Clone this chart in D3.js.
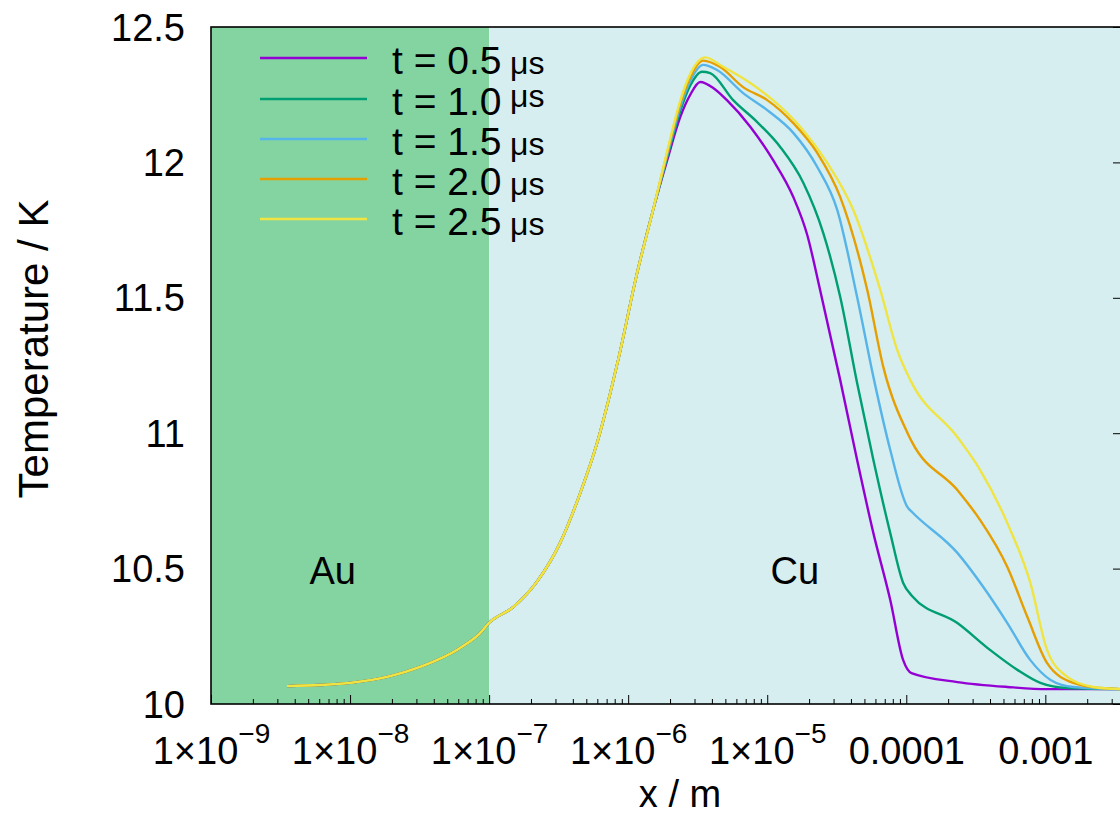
<!DOCTYPE html>
<html>
<head>
<meta charset="utf-8">
<script src="https://cdn.jsdelivr.net/npm/d3@7"></script>
<style>
  body { margin: 0; background: #fff; }
  text { font-family: "Liberation Sans", Arial, sans-serif; fill: #000; }
</style>
</head>
<body>
<div id="chart"></div>
<script>
// legend labels (time in microseconds) and line colours
var timeLabels = ['0.5', '1.0', '1.5', '2.0', '2.5'];
var lineColors = ['#9400d3', '#009e73', '#56b4e9', '#e69f00', '#f0e442'];

// material regions
var regionNames = ['Au', 'Cu'];
var regionStart = [1e-9, 1e-7];
var regionEnd = [1e-7, 3.5e-3];
var regionLabelX = [7.5e-9, 1.58e-5];
var regionLabelT = 10.443;

// tick values
var yTicks = [10, 10.5, 11, 11.5, 12, 12.5];
var xMajorTicks = [1e-9, 1e-8, 1e-7, 1e-6, 1e-5, 1e-4, 1e-3];

// common rising part of every profile
var riseX = [3.52e-9, 6.08e-9, 1.0e-8, 1.94e-8, 3.19e-8, 6.18e-8, 8.61e-8, 1.0e-7, 1.49e-7,
    2.21e-7, 3.24e-7, 4.52e-7, 5.98e-7, 7.43e-7, 8.47e-7, 1.16e-6, 1.51e-6];
var riseT = [10.066, 10.070, 10.078, 10.103, 10.137, 10.207, 10.262, 10.300, 10.358,
    10.452, 10.595, 10.779, 10.964, 11.148, 11.270, 11.592, 11.824];

// t = 0.5 us
var x05 = [1.91e-6, 2.37e-6, 2.79e-6, 3.30e-6, 4.09e-6, 5.13e-6, 7.55e-6, 1.10e-5, 1.54e-5, 1.94e-5, 2.40e-5,
    3.35e-5, 4.43e-5, 5.80e-5, 7.67e-5, 9.50e-5, 1.09e-4, 2.33e-4, 5.33e-4, 1.03e-3, 3.5e-3];
var T05 = [12.009, 12.168, 12.249, 12.297, 12.275, 12.230, 12.132, 12.009, 11.872, 11.732, 11.529,
    11.196, 10.901, 10.631, 10.384, 10.162, 10.114, 10.081, 10.063, 10.055, 10.055];

// t = 1.0 us
var x10 = [1.91e-6, 2.37e-6, 2.79e-6, 3.39e-6, 3.89e-6, 5.69e-6, 8.47e-6, 1.24e-5, 1.82e-5, 2.53e-5, 3.35e-5, 4.43e-5,
    5.80e-5, 7.67e-5, 9.50e-5, 1.10e-4, 2.33e-4, 4.02e-4, 6.30e-4, 9.21e-4, 1.44e-3, 3.5e-3];
var T10 = [12.020, 12.190, 12.283, 12.335, 12.330, 12.230, 12.149, 12.057, 11.924, 11.739, 11.503, 11.185,
    10.901, 10.631, 10.447, 10.399, 10.299, 10.199, 10.126, 10.078, 10.059, 10.055];

// t = 1.5 us
var x15 = [1.91e-6, 2.37e-6, 2.79e-6, 3.47e-6, 4.36e-6, 6.71e-6, 1.0e-5, 1.54e-5, 2.29e-5, 3.19e-5, 4.43e-5, 5.80e-5,
    7.67e-5, 1.02e-4, 1.10e-4, 2.33e-4, 3.58e-4, 5.33e-4, 7.80e-4, 1.09e-3, 1.59e-3, 3.5e-3];
var T15 = [12.028, 12.205, 12.300, 12.360, 12.341, 12.256, 12.193, 12.109, 11.983, 11.824, 11.503, 11.208,
    10.938, 10.727, 10.709, 10.558, 10.432, 10.299, 10.162, 10.089, 10.063, 10.055];

// t = 2.0 us
var x20 = [1.91e-6, 2.37e-6, 2.79e-6, 3.47e-6, 4.59e-6, 6.71e-6, 1.0e-5, 1.54e-5, 2.29e-5, 3.35e-5, 5.24e-5, 6.84e-5,
    1.02e-4, 1.10e-4, 2.33e-4, 3.40e-4, 5.33e-4, 7.43e-4, 1.03e-3, 1.59e-3, 2.49e-3, 3.5e-3];
var T20 = [12.036, 12.218, 12.314, 12.376, 12.352, 12.278, 12.230, 12.145, 12.035, 11.872, 11.529, 11.244,
    11.001, 10.967, 10.790, 10.679, 10.506, 10.321, 10.151, 10.078, 10.059, 10.055];

// t = 2.5 us
var x25 = [1.91e-6, 2.37e-6, 2.79e-6, 3.58e-6, 4.82e-6, 7.55e-6, 1.10e-5, 1.73e-5, 2.70e-5, 4.16e-5, 6.50e-5,
    8.61e-5, 1.07e-4, 2.33e-4, 3.40e-4, 5.33e-4, 7.80e-4, 1.03e-3, 1.44e-3, 2.21e-3, 3.5e-3];
var T25 = [12.042, 12.228, 12.326, 12.388, 12.353, 12.293, 12.230, 12.131, 11.998, 11.824, 11.529,
    11.307, 11.196, 10.986, 10.864, 10.668, 10.447, 10.199, 10.100, 10.063, 10.055];

var tailX = [x05, x10, x15, x20, x25];
var tailT = [T05, T10, T15, T20, T25];

// svg area
var svgWidth = 1120;
var svgHeight = 825;

// plot frame in pixels
var frame = { left: 211, right: 1121, top: 27, bottom: 704 };

var svg = d3.select('#chart')
    .append('svg')
    .attr('width', svgWidth)
    .attr('height', svgHeight);

var xScale = d3.scaleLog()
    .domain([1e-9, 3.5e-3])
    .range([frame.left, frame.right]);

var yScale = d3.scaleLinear()
    .domain([10, 12.5])
    .range([frame.bottom, frame.top]);

svg.append('clipPath')
    .attr('id', 'plot-clip')
    .append('rect')
    .attr('x', frame.left)
    .attr('y', frame.top)
    .attr('width', frame.right - frame.left)
    .attr('height', frame.bottom - frame.top);

// region backgrounds
var regionColors = ['#83d4a0', '#d6eef0'];
svg.append('g')
    .selectAll('rect')
    .data(regionNames)
    .enter()
    .append('rect')
    .attr('x', (d, i) => xScale(regionStart[i]))
    .attr('width', (d, i) => xScale(regionEnd[i]) - xScale(regionStart[i]))
    .attr('y', yScale(12.5))
    .attr('height', yScale(10) - yScale(12.5))
    .attr('fill', (d, i) => regionColors[i]);

svg.append('g')
    .selectAll('text')
    .data(regionNames)
    .enter()
    .append('text')
    .attr('x', (d, i) => xScale(regionLabelX[i]))
    .attr('y', yScale(regionLabelT))
    .attr('text-anchor', 'middle')
    .style('font-size', '38px')
    .text(d => d);

// profiles
var line = d3.line()
    .x(d => xScale(d[0]))
    .y(d => yScale(d[1]))
    .curve(d3.curveMonotoneX);

var profiles = timeLabels.map((label, i) => {
    var pts = riseX.map((x, j) => [x, riseT[j]]);
    return pts.concat(tailX[i].map((x, j) => [x, tailT[i][j]]));
});

svg.append('g')
    .attr('clip-path', 'url(#plot-clip)')
    .selectAll('path')
    .data(profiles)
    .enter()
    .append('path')
    .attr('d', line)
    .attr('fill', 'none')
    .attr('stroke', (d, i) => lineColors[i])
    .attr('stroke-width', 2.4)
    .attr('stroke-linejoin', 'round');

// bottom axis: inward ticks, custom labels
var xMinorTicks = [];
d3.range(-9, -2).forEach(e => {
    d3.range(2, 10).forEach(m => {
        var v = m * Math.pow(10, e);
        if (v < 3.5e-3) xMinorTicks.push(v);
    });
});

svg.append('g')
    .attr('transform', `translate(0, ${frame.bottom})`)
    .call(d3.axisBottom(xScale).tickValues(xMinorTicks).tickSize(-5).tickFormat(''))
    .call(g => g.select('.domain').remove());

var xAxis = svg.append('g')
    .attr('transform', `translate(0, ${frame.bottom})`)
    .call(d3.axisBottom(xScale).tickValues(xMajorTicks).tickSize(-9).tickFormat(''))
    .call(g => g.select('.domain').remove());

xAxis.selectAll('.tick text').each(function(d) {
    var t = d3.select(this)
        .attr('y', 60)
        .attr('dy', null)
        .attr('text-anchor', 'middle')
        .style('font-size', '38px');
    var e = Math.round(Math.log10(d));
    if (e < -4) {
        t.append('tspan').text('1×10');
        t.append('tspan').attr('dy', -21).style('font-size', '28px').text('\u2212' + (-e));
    } else {
        t.append('tspan').text(d3.format('.4~f')(d));
    }
});

// right axis: mirrored inward ticks only
svg.append('g')
    .attr('transform', `translate(${frame.right}, 0)`)
    .call(d3.axisRight(yScale).tickValues(yTicks).tickSize(-8).tickFormat(''))
    .call(g => g.select('.domain').remove());

// left tick labels
svg.append('g')
    .selectAll('text')
    .data(yTicks)
    .enter()
    .append('text')
    .attr('x', 185)
    .attr('y', d => yScale(d))
    .attr('dy', '0.36em')
    .attr('text-anchor', 'end')
    .style('font-size', '38px')
    .text(d => d3.format('~g')(d));

// frame
svg.append('rect')
    .attr('x', frame.left)
    .attr('y', frame.top)
    .attr('width', frame.right - frame.left)
    .attr('height', frame.bottom - frame.top)
    .attr('fill', 'none')
    .attr('stroke', '#000')
    .attr('stroke-width', 1.6);

// axis titles
svg.append('text')
    .attr('x', 680)
    .attr('y', 807)
    .attr('text-anchor', 'middle')
    .style('font-size', '38px')
    .text('x / m');

svg.append('text')
    .attr('transform', 'translate(48, 349) rotate(-90)')
    .attr('text-anchor', 'middle')
    .style('font-size', '42px')
    .text('Temperature / K');

// legend
var legendY = [58, 99, 139, 179, 219];
var muShift = [0, -8, 0, 0, 0];
var legend = svg.append('g');

legend.selectAll('line')
    .data(timeLabels)
    .enter()
    .append('line')
    .attr('x1', 260)
    .attr('x2', 367)
    .attr('y1', (d, i) => legendY[i])
    .attr('y2', (d, i) => legendY[i])
    .attr('stroke', (d, i) => lineColors[i])
    .attr('stroke-width', 2.4);

legend.selectAll('text')
    .data(timeLabels)
    .enter()
    .append('text')
    .attr('x', 392)
    .attr('y', (d, i) => legendY[i] + 16)
    .style('font-size', '39px')
    .each(function(d, i) {
        var t = d3.select(this);
        t.append('tspan').text('t = ' + d);
        t.append('tspan')
            .attr('x', 510)
            .attr('dy', muShift[i])
            .style('font-size', '32px')
            .text('μs');
    });
</script>
</body>
</html>
